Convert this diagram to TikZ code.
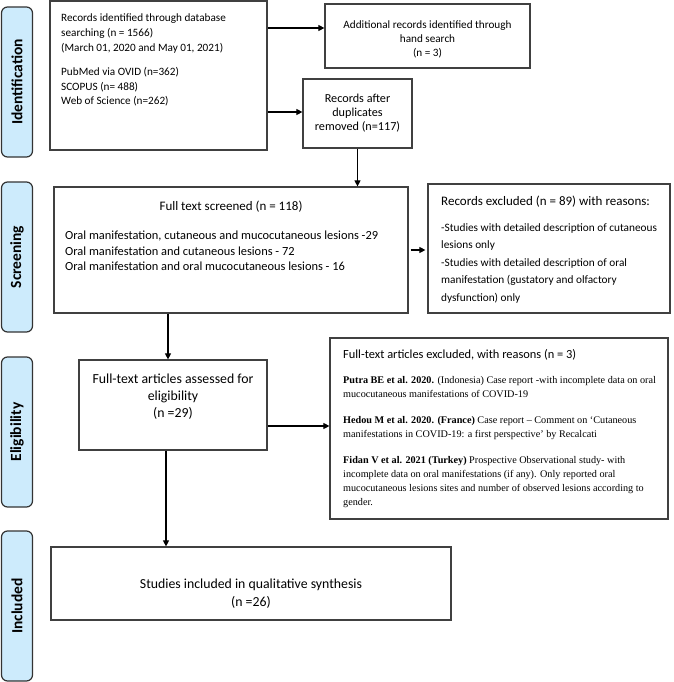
\documentclass[tikz,border=0pt]{standalone}
\usepackage{fontspec}
\setmainfont{Carlito}
\newfontfamily\refserif{Liberation Serif}
\usetikzlibrary{arrows.meta}
\definecolor{boxgray}{HTML}{404040}
\definecolor{sideblue}{HTML}{CDEBFC}
\definecolor{sideline}{HTML}{333333}
\begin{document}
\begin{tikzpicture}[x=1pt,y=-1pt,
  box/.style={draw=boxgray, line width=1.2pt, inner sep=0pt, align=center},
  side/.style={draw=sideline, fill=sideblue, rounded corners=6pt, line width=1.2pt,
    rotate=90, minimum width=150pt, minimum height=31pt, inner sep=0pt,
    font=\fontsize{15.5}{15.5}\selectfont\bfseries},
  arr/.style={-{Triangle[length=6pt,width=6pt]}, line width=1.1pt},
  txt/.style={inner sep=0pt, anchor=north west, align=left}]
\useasboundingbox (0,0) rectangle (673,682);
% side labels
\node[side] (sid) at (17,82) {Identification};
\node[side] (ssc) at (17,257) {Screening};
\node[side] (sel) at (17,432) {Eligibility};
\node[side] (sin) at (17,606) {Included};
% boxes
\node[box, minimum width=217pt, minimum height=149pt] (rec) at (158.5,75.5) {};
\node[txt, font=\fontsize{11.2}{14.6}\selectfont] (rect) at (61,14) {Records identified through database\\searching (n = 1566)\\(March 01, 2020 and May 01, 2021)\\[10pt]PubMed via OVID (n=362)\\SCOPUS (n= 488)\\Web of Science (n=262)};
\node[box, minimum width=205pt, minimum height=64pt] (add) at (427.5,36) {};
\node[inner sep=0pt, align=center, font=\fontsize{11.2}{14}\selectfont] (addt) at (427.5,39) {Additional records identified through\\hand search\\(n = 3)};
\node[box, minimum width=109pt, minimum height=69pt, font=\fontsize{12.2}{14}\selectfont] (dup) at (357.5,113.5) {Records after\\duplicates\\removed (n=117)};
\node[box, minimum width=354pt, minimum height=126pt] (ft) at (231,250) {};
\node[inner sep=0pt, font=\fontsize{13}{15}\selectfont] (ftt) at (231,207) {Full text screened (n = 118)};
\node[txt, font=\fontsize{12.4}{15.5}\selectfont] (ftl) at (65,231) {Oral manifestation, cutaneous and mucocutaneous lesions -29\\Oral manifestation and cutaneous lesions - 72\\Oral manifestation and oral mucocutaneous lesions - 16};
\node[box, minimum width=242pt, minimum height=129pt] (rex) at (549,248.5) {};
\node[txt, font=\fontsize{13}{15}\selectfont] (rext) at (441,196) {Records excluded (n = 89) with reasons:};
\node[txt, font=\fontsize{11.3}{17.5}\selectfont] (rexl) at (441,223) {-Studies with detailed description of cutaneous\\lesions only\\-Studies with detailed description of oral\\manifestation (gustatory and olfactory\\dysfunction) only};
\node[box, minimum width=188pt, minimum height=90pt] (elg) at (173,405) {};
\node[inner sep=0pt, align=center, font=\fontsize{13.8}{17}\selectfont] (elgt) at (173,397) {Full-text articles assessed for\\eligibility\\(n =29)};
\node[box, minimum width=338pt, minimum height=181pt] (fex) at (499,428.5) {};
\node[txt, font=\fontsize{12.4}{15}\selectfont] (fext) at (343,349) {Full-text articles excluded, with reasons (n = 3)};
\node[txt, font=\refserif\fontsize{10.2}{14}\selectfont] (fexl) at (343,376) {\textbf{Putra BE et al. 2020.} (Indonesia) Case report -with incomplete data on oral\\mucocutaneous manifestations of COVID-19\\[12pt]\textbf{Hedou M et al. 2020. (France)} Case report – Comment on ‘Cutaneous\\manifestations in COVID-19: a first perspective’ by Recalcati\\[12pt]\textbf{Fidan V et al. 2021 (Turkey)} Prospective Observational study- with\\incomplete data on oral manifestations (if any). Only reported oral\\mucocutaneous lesions sites and number of observed lesions according to\\gender.};
\node[box, minimum width=400pt, minimum height=73pt] (inc) at (251,583.5) {};
\node[inner sep=0pt, align=center, font=\fontsize{13.8}{18}\selectfont] (inct) at (251,594) {Studies included in qualitative synthesis\\(n =26)};
% arrows
\draw[arr] (rec.east |- 0,28) -- (add.west |- 0,28);
\draw[arr] (rec.east |- 0,112) -- (dup.west |- 0,112);
\draw[arr] (dup.south) -- (ft.north -| dup.south);
\draw[arr] ([xshift=2pt]ft.east |- 0,250) -- ([xshift=-2pt]rex.west |- 0,250);
\draw[arr] (ft.south -| 168,0) -- (elg.north -| 168,0);
\draw[arr] (elg.east |- 0,426) -- (fex.west |- 0,426);
\draw[arr] (elg.south -| 166,0) -- (inc.north -| 166,0);
\end{tikzpicture}
\end{document}
